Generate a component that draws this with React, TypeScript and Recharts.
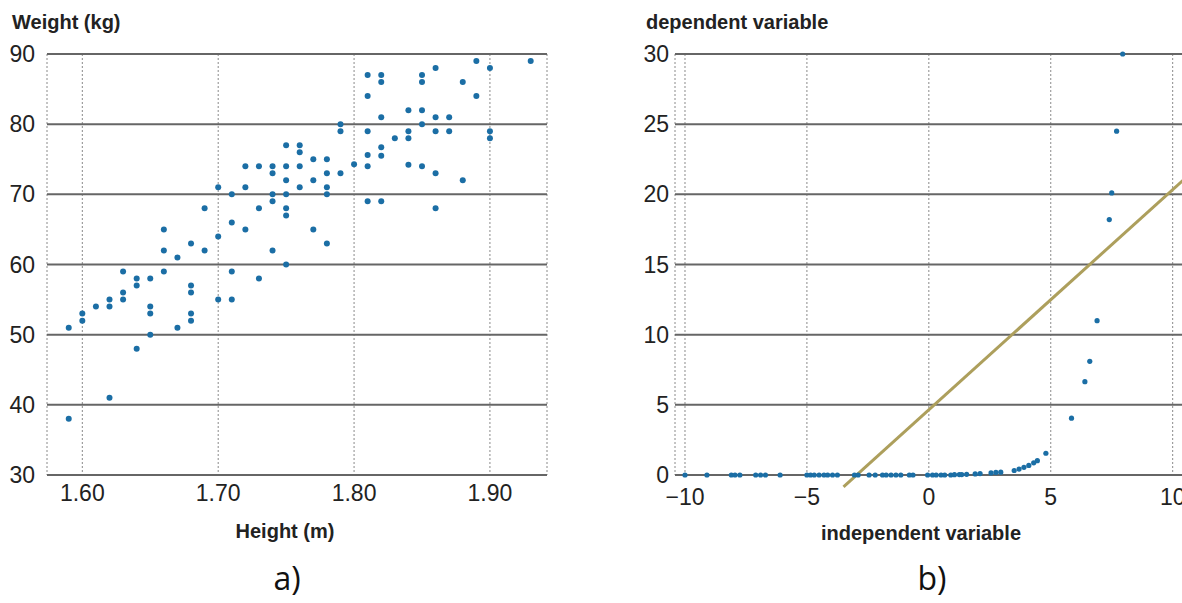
import { ScatterChart, Scatter, XAxis, YAxis, CartesianGrid, ReferenceLine } from "recharts";

// a) height vs weight
const heights = [
  1.75, 1.76, 1.76, 1.72, 1.73, 1.74, 1.75, 1.76, 1.74, 1.75, 1.7, 1.72, 1.76, 1.71, 1.74, 1.75,
  1.69, 1.73, 1.74, 1.75, 1.75, 1.71, 1.66, 1.72, 1.7, 1.68, 1.89, 1.93, 1.9, 1.86, 1.81, 1.82,
  1.85, 1.82, 1.85, 1.88, 1.81, 1.89, 1.84, 1.85, 1.82, 1.86, 1.87, 1.79, 1.85, 1.79, 1.81, 1.84,
  1.86, 1.87, 1.9, 1.9, 1.83, 1.84, 1.82, 1.81, 1.82, 1.77, 1.78, 1.8, 1.81, 1.84, 1.85, 1.78,
  1.79, 1.86, 1.77, 1.78, 1.88, 1.78, 1.81, 1.82, 1.86, 1.77, 1.78, 1.66, 1.67, 1.69, 1.74, 1.75,
  1.63, 1.66, 1.71, 1.73, 1.64, 1.65, 1.64, 1.63, 1.68, 1.68, 1.62, 1.63, 1.7, 1.71, 1.61, 1.62,
  1.65, 1.6, 1.65, 1.68, 1.6, 1.68, 1.59, 1.67, 1.65, 1.64, 1.62, 1.59,
];
const weights = [
  77, 77, 76, 74, 74, 74, 74, 74, 73, 72, 71, 71, 71, 70, 70, 70,
  68, 68, 69, 68, 67, 66, 65, 65, 64, 63, 89, 89, 88, 88, 87, 87,
  87, 86, 86, 86, 84, 84, 82, 82, 81, 81, 81, 80, 80, 79, 79, 79,
  79, 79, 79, 78, 78, 78, 76.7, 75.6, 75.5, 75, 75, 74.3, 74, 74.2, 74, 73,
  73, 73, 72, 71, 72, 70, 69, 69, 68, 65, 63, 62, 61, 62, 62, 60,
  59, 59, 59, 58, 58, 58, 57, 56, 57, 56, 55, 55, 55, 55, 54, 54,
  54, 53, 53, 53, 52, 52, 51, 51, 50, 48, 41, 38,
];
const heightTicks = [1.6, 1.7, 1.8, 1.9];
const weightTicks = [30, 40, 50, 60, 70, 80, 90];

// b) independent vs dependent variable
const indep = [
  -10, -9.1, -8.1, -7.95, -7.75, -7.1, -6.9, -6.7, -6.1, -5.0, -4.85, -4.7, -4.5, -4.3, -4.15, -3.95,
  -3.75, -3.05, -2.9, -2.45, -2.2, -1.9, -1.75, -1.55, -1.35, -1.15, -0.8, -0.65, -0.05, 0.15, 0.3, 0.5,
  0.65, 0.9, 1.05, 1.25, 1.35, 1.55, 1.9, 2.1, 2.55, 2.75, 2.95, 3.5, 3.7, 3.9, 4.1, 4.3,
  4.45, 4.8, 5.85, 6.4, 6.6, 6.9, 7.4, 7.5, 7.7, 7.95,
];
const dep = [
  0, 0, 0, 0, 0, 0, 0, 0, 0, 0, 0, 0, 0, 0, 0, 0,
  0, 0, 0, 0, 0, 0, 0, 0, 0, 0, 0, 0, 0, 0, 0, 0,
  0, 0, 0.02, 0.03, 0.03, 0.05, 0.08, 0.1, 0.15, 0.18, 0.2, 0.32, 0.42, 0.55, 0.68, 0.87,
  1.02, 1.55, 4.05, 6.65, 8.1, 11.0, 18.2, 20.1, 24.5, 30.0,
];
const indepTicks = [-10, -5, 0, 5, 10];
const depTicks = [0, 5, 10, 15, 20, 25, 30];
const fitX = [-3.5, 10.71];
const fitY = [-0.85, 21.45];

const leftPoints = heights.map((h, i) => ({ h, w: weights[i] }));
const rightPoints = indep.map((x, i) => ({ x, y: dep[i] }));

const FONT = "'Liberation Sans', Arial, sans-serif";
const DOT = "#1b6ea5";
const tickStyle = { fill: "#222", fontSize: 23, fontFamily: FONT };

const minus = (v: number) => (v < 0 ? `\u2212${-v}` : `${v}`);

const Dot = (r: number) => (p: any) => <circle cx={p.cx} cy={p.cy} r={r} fill={DOT} />;

export default function App() {
  return (
    <div
      style={{
        position: "absolute",
        left: 0,
        top: 0,
        width: 1182,
        height: 603,
        overflow: "hidden",
        background: "#fff",
      }}
    >
      <div style={{ position: "absolute", left: 0, top: 0 }}>
        <ScatterChart width={560} height={540} margin={{ top: 54, right: 13, bottom: 25, left: 0 }}>
          <CartesianGrid horizontal={false} vertical stroke="#8a8a8a" strokeDasharray="2 2" />
          <CartesianGrid horizontal vertical={false} stroke="#666" strokeWidth={2} />
          <XAxis
            type="number"
            dataKey="h"
            domain={[1.574, 1.942]}
            ticks={heightTicks}
            interval={0}
            tickFormatter={(v: number) => v.toFixed(2)}
            axisLine={false}
            tickLine={false}
            tickSize={0}
            tickMargin={10}
            height={40}
            tick={tickStyle}
          />
          <YAxis
            type="number"
            dataKey="w"
            domain={[30, 90]}
            ticks={weightTicks}
            interval={0}
            axisLine={false}
            tickLine={false}
            tickSize={0}
            tickMargin={12}
            width={47}
            tick={tickStyle}
          />
          <Scatter data={leftPoints} shape={Dot(3)} isAnimationActive={false} />
        </ScatterChart>
      </div>

      <div style={{ position: "absolute", left: 590, top: 0 }}>
        <ScatterChart width={600} height={540} margin={{ top: 54, right: 0, bottom: 25, left: 0 }}>
          <CartesianGrid horizontal={false} vertical stroke="#8a8a8a" strokeDasharray="2 2" />
          <CartesianGrid horizontal vertical={false} stroke="#666" strokeWidth={2} />
          <XAxis
            type="number"
            dataKey="x"
            domain={[-10.41, 10.71]}
            ticks={indepTicks}
            interval={0}
            tickFormatter={minus}
            axisLine={false}
            tickLine={false}
            tickSize={0}
            tickMargin={14}
            height={40}
            tick={tickStyle}
          />
          <YAxis
            type="number"
            dataKey="y"
            domain={[0, 30]}
            ticks={depTicks}
            interval={0}
            axisLine={false}
            tickLine={false}
            tickSize={0}
            tickMargin={6}
            width={85}
            tick={tickStyle}
          />
          <ReferenceLine
            segment={[
              { x: fitX[0], y: fitY[0] },
              { x: fitX[1], y: fitY[1] },
            ]}
            ifOverflow="visible"
            stroke="#ad9f5c"
            strokeWidth={3}
          />
          <Scatter data={rightPoints} shape={Dot(2.6)} isAnimationActive={false} />
        </ScatterChart>
      </div>

      <svg
        width={1182}
        height={603}
        style={{ position: "absolute", left: 0, top: 0, pointerEvents: "none" }}
      >
        <g fontFamily={FONT} fontWeight="bold" fontSize={20} fill="#222">
          <text x={12} y={29}>Weight (kg)</text>
          <text x={646} y={29}>dependent variable</text>
          <text x={285} y={538} textAnchor="middle">Height (m)</text>
          <text x={921} y={540} textAnchor="middle">independent variable</text>
        </g>
        <g fontFamily="'Open Sans', sans-serif" fontSize={32} fill="#111">
          <text x={287} y={590} textAnchor="middle">a)</text>
          <text x={932} y={590} textAnchor="middle">b)</text>
        </g>
      </svg>
    </div>
  );
}
